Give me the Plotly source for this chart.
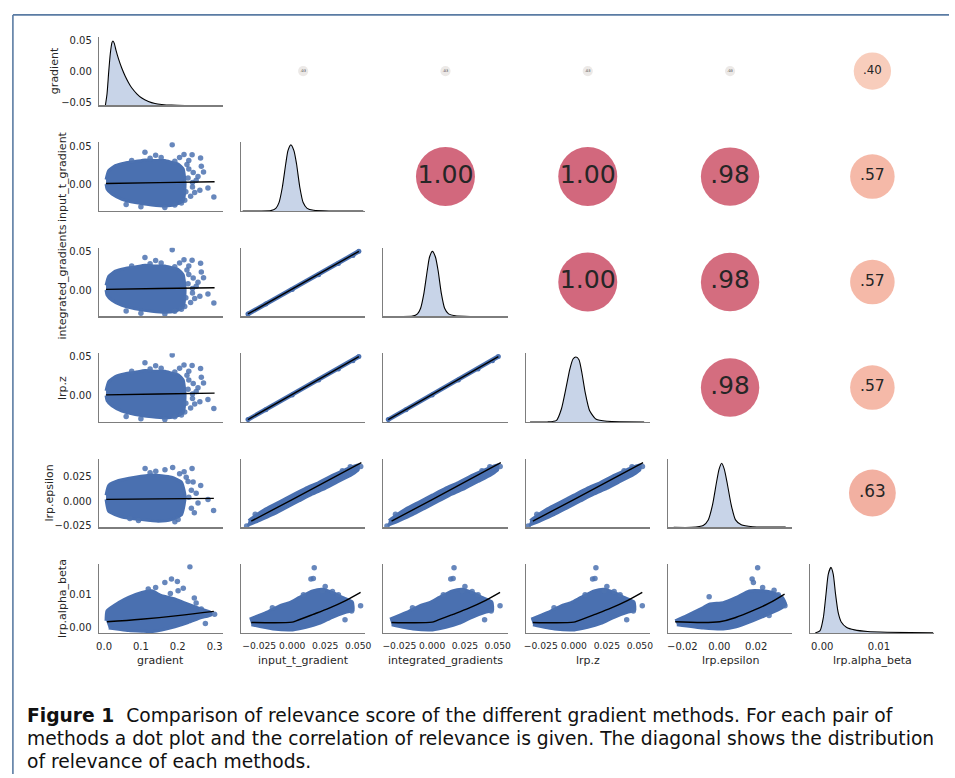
import plotly.graph_objects as go
import math

W, H = 955, 778

# ---------------- data ----------------
names = ["gradient", "input_t_gradient", "integrated_gradients", "lrp.z", "lrp.epsilon", "lrp.alpha_beta"]

x_ranges = [[-0.0143, 0.3226], [-0.0387, 0.0553], [-0.0372, 0.0575], [-0.0364, 0.0575], [-0.0278, 0.0395], [-0.0021, 0.0198]]
y_ranges = [[-0.0555, 0.0555], [-0.0355, 0.0553], [-0.0342, 0.0547], [-0.0340, 0.0543], [-0.0270, 0.0434], [-0.0017, 0.0194]]
x_tickvals = [[0.0, 0.1, 0.2, 0.3], [-0.025, 0.0, 0.025, 0.05], [-0.025, 0.0, 0.025, 0.05], [-0.025, 0.0, 0.025, 0.05], [-0.02, 0.0, 0.02], [0.0, 0.01]]
x_tickfmt = [".1f", ".3f", ".3f", ".3f", ".2f", ".2f"]
y_tickvals = [[-0.05, 0.0, 0.05], [0.0, 0.05], [0.0, 0.05], [0.0, 0.05], [-0.025, 0.0, 0.025], [0.0, 0.01]]
y_tickfmt = [".2f", ".2f", ".2f", ".2f", ".3f", ".2f"]

# correlation (upper triangle)
corr_rows = [0, 0, 0, 0, 0, 1, 1, 1, 1, 2, 2, 2, 3, 3, 4]
corr_cols = [1, 2, 3, 4, 5, 2, 3, 4, 5, 3, 4, 5, 4, 5, 5]
corr_vals = [0.03, 0.03, 0.03, 0.03, 0.40, 1.00, 1.00, 0.98, 0.57, 1.00, 0.98, 0.57, 0.98, 0.57, 0.63]

# diagonal distributions (kde outline, relative density)
diag_x = [
    [0.0036, 0.0081, 0.0126, 0.0170, 0.0216, 0.0242, 0.0278, 0.0323, 0.0395, 0.0485, 0.0575, 0.0665, 0.0755, 0.0889, 0.1024, 0.1204, 0.1383, 0.1563, 0.1833, 0.2192, 0.3091],
    [-0.0375, -0.0250, -0.0162, -0.0124, -0.0100, -0.0075, -0.0049, -0.0032, -0.0010, 0.0013, 0.0033, 0.0058, 0.0083, 0.0113, 0.0163, 0.0288, 0.0538],
    [-0.0360, -0.0240, -0.0150, -0.0112, -0.0088, -0.0063, -0.0037, -0.0020, 0.0002, 0.0025, 0.0045, 0.0070, 0.0095, 0.0125, 0.0175, 0.0300, 0.0560],
    [-0.0331, -0.0200, -0.0131, -0.0094, -0.0056, -0.0031, -0.0006, 0.0016, 0.0039, 0.0061, 0.0086, 0.0119, 0.0169, 0.0256, 0.0532],
    [-0.0247, -0.0150, -0.0087, -0.0060, -0.0037, -0.0015, -0.0001, 0.0013, 0.0027, 0.0042, 0.0065, 0.0088, 0.0119, 0.0181, 0.0360],
    [-0.00123, -0.00037, 0.00021, 0.00067, 0.00107, 0.00154, 0.00194, 0.00235, 0.00281, 0.00339, 0.00426, 0.00570, 0.00800, 0.01147, 0.01957],
]
diag_h = [
    [0.0, 0.182, 0.52, 0.807, 0.979, 1.0, 0.964, 0.859, 0.719, 0.573, 0.453, 0.354, 0.271, 0.182, 0.115, 0.0625, 0.031, 0.016, 0.005, 0.0, 0.0],
    [0.0, 0.0, 0.005, 0.04, 0.127, 0.355, 0.71, 0.913, 1.0, 0.913, 0.71, 0.355, 0.127, 0.04, 0.01, 0.0, 0.0],
    [0.0, 0.0, 0.005, 0.04, 0.127, 0.355, 0.71, 0.913, 1.0, 0.913, 0.71, 0.355, 0.127, 0.04, 0.01, 0.0, 0.0],
    [0.0, 0.0, 0.025, 0.2, 0.555, 0.808, 0.97, 1.0, 0.96, 0.758, 0.455, 0.177, 0.04, 0.01, 0.0],
    [0.0, 0.0, 0.03, 0.117, 0.347, 0.704, 0.908, 1.0, 0.908, 0.704, 0.347, 0.117, 0.04, 0.01, 0.005],
    [0.0, 0.036, 0.239, 0.594, 0.898, 1.0, 0.898, 0.594, 0.315, 0.163, 0.087, 0.046, 0.021, 0.01, 0.0],
]
diag_top = [1.067, 1.04, 1.056, 1.06, 1.072, 1.05]

# scatter clouds: dense region outline + sparse points + fitted line
# A: gradient vs input_t_gradient / integrated_gradients / lrp.z
A_hull_x = [0.0054, 0.0081, 0.0215, 0.0485, 0.0844, 0.1294, 0.1653, 0.1922, 0.2147, 0.2200, 0.2147, 0.2012, 0.1832, 0.1653, 0.1383, 0.1114, 0.0844, 0.0574, 0.0305, 0.0126, 0.0054]
A_hull_y = [0.0, -0.0066, -0.0133, -0.0200, -0.0244, -0.0275, -0.0289, -0.0275, -0.0222, 0.0, 0.0199, 0.0266, 0.0288, 0.0310, 0.0310, 0.0319, 0.0297, 0.0279, 0.0243, 0.0177, 0.0060]
A_pts_x = [0.185, 0.111, 0.140, 0.217, 0.239, 0.262, 0.192, 0.230, 0.264, 0.242, 0.230, 0.282, 0.298, 0.246, 0.235, 0.219, 0.192, 0.260, 0.250, 0.165, 0.100,
           0.205, 0.225, 0.255, 0.270, 0.228, 0.240, 0.210, 0.155, 0.125, 0.075, 0.060, 0.240, 0.222]
A_pts_y = [0.052, 0.042, 0.038, 0.039, 0.0386, 0.0346, 0.030, 0.031, 0.0234, 0.0154, 0.020, -0.0053, -0.0169, -0.011, -0.016, -0.0213, -0.0275, -0.008, 0.005, -0.031, -0.030,
           0.035, 0.026, 0.010, 0.016, 0.008, -0.004, -0.025, 0.035, 0.034, 0.031, -0.027, 0.002, -0.010]
A_fit_x = [0.005, 0.15, 0.300]
A_fit_y = [0.0008, 0.0019, 0.0030]

# B: gradient vs lrp.epsilon
B_hull_x = [0.0054, 0.0126, 0.0485, 0.1024, 0.1473, 0.1832, 0.2102, 0.2173, 0.2200, 0.2102, 0.1832, 0.1563, 0.1294, 0.0844, 0.0395, 0.0126, 0.0054]
B_hull_y = [0.0017, -0.0106, -0.0163, -0.0190, -0.0206, -0.0190, -0.0140, -0.0040, 0.0050, 0.0194, 0.0244, 0.0260, 0.0267, 0.0244, 0.0210, 0.0160, 0.0060]
B_pts_x = [0.1114, 0.1404, 0.1862, 0.1653, 0.2173, 0.2389, 0.2230, 0.2623, 0.2417, 0.2370, 0.2821, 0.2973, 0.2370, 0.0934, 0.1922, 0.2010,
           0.2050, 0.2280, 0.2500, 0.2550, 0.2300, 0.2450, 0.1250, 0.0700]
B_pts_y = [0.0334, 0.0304, 0.0344, 0.0320, 0.0301, 0.0334, 0.0244, 0.0160, 0.0194, 0.0111, 0.0017, -0.0096, -0.0073, -0.0200, -0.0213, -0.0190,
           0.0280, 0.0200, 0.0080, -0.0020, 0.0040, -0.0120, 0.0290, -0.0180]
B_fit_x = [0.006, 0.15, 0.298]
B_fit_y = [0.0017, 0.0022, 0.0027]

# C: gradient vs lrp.alpha_beta
C_hull_x = [0.0054, 0.0081, 0.0395, 0.0664, 0.1024, 0.1294, 0.1563, 0.1922, 0.2282, 0.2641, 0.2900, 0.2900, 0.2641, 0.2282, 0.1922, 0.1563, 0.1294, 0.1024, 0.0664, 0.0395, 0.0126]
C_hull_y = [0.0020, 0.0051, 0.0076, 0.0092, 0.0107, 0.0112, 0.0097, 0.0087, 0.0071, 0.0056, 0.0046, 0.0038, 0.0030, 0.0015, 0.0002, -0.0008, -0.0013, -0.0012, -0.0010, -0.0006, -0.0002]
C_pts_x = [0.233, 0.183, 0.199, 0.165, 0.201, 0.264, 0.300, 0.275, 0.215, 0.250, 0.140, 0.120, 0.180, 0.245]
C_pts_y = [0.0186, 0.0148, 0.0141, 0.0138, 0.0112, 0.0056, 0.0040, 0.0012, 0.0120, 0.0075, 0.0122, 0.0118, 0.0104, 0.0090]
C_fit_x = [0.008, 0.100, 0.200, 0.298]
C_fit_y = [0.0017, 0.0025, 0.0036, 0.0049]

# D: input_t_gradient / integrated_gradients / lrp.z against each other
D_x = [-0.0335, -0.0200, 0.0, 0.0200, 0.0350, 0.0460, 0.0505]
D_y = [-0.0310, -0.0182, 0.0005, 0.0197, 0.0341, 0.0447, 0.0500]
D_fit_x = [-0.0335, 0.0505]
D_fit_y = [-0.0310, 0.0500]

# E: input_t_gradient / integrated_gradients / lrp.z vs lrp.epsilon
E_hull_x = [-0.034, -0.025, -0.015, -0.005, 0.005, 0.015, 0.025, 0.035, 0.045, 0.050, 0.050, 0.040, 0.030, 0.020, 0.010, 0.000, -0.010, -0.020, -0.028, -0.033]
E_hull_y = [-0.025, -0.020, -0.014, -0.007, 0.000, 0.007, 0.013, 0.020, 0.027, 0.032, 0.037, 0.032, 0.026, 0.019, 0.013, 0.006, -0.001, -0.008, -0.015, -0.020]
E_pts_x = [0.0519, -0.0345, -0.028, 0.044, 0.038]
E_pts_y = [0.0354, -0.0255, -0.0135, 0.0350, 0.0310]
E_fit_x = [-0.031, 0.0, 0.0524]
E_fit_y = [-0.0206, 0.0015, 0.0394]

# F: input_t_gradient / integrated_gradients / lrp.z vs lrp.alpha_beta
F_hull_x = [-0.0322, -0.0196, -0.0096, -0.0021, 0.0054, 0.0154, 0.0229, 0.0305, 0.0380, 0.0455, 0.0460, 0.0405, 0.0305, 0.0205, 0.0105, 0.0004, -0.0146, -0.0309]
F_hull_y = [0.0025, 0.0046, 0.0066, 0.0076, 0.0092, 0.0112, 0.0117, 0.0107, 0.0092, 0.0078, 0.0052, 0.0046, 0.0031, 0.0012, 0.0000, -0.0008, -0.0005, 0.0008]
F_pts_x = [0.0167, 0.0142, 0.0160, 0.0229, 0.0305, 0.0518, 0.0450, 0.0085, 0.0400, 0.0250, 0.0350, -0.0150]
F_pts_y = [0.0183, 0.0148, 0.0150, 0.0112, 0.0110, 0.0066, 0.0050, 0.0100, 0.0023, 0.0125, 0.0100, 0.0060]
F_fit_x = [-0.031, 0.0, 0.003, 0.0154, 0.028, 0.0405, 0.0518]
F_fit_y = [0.0015, 0.0016, 0.0020, 0.0039, 0.0059, 0.0082, 0.0107]

# G: lrp.epsilon vs lrp.alpha_beta
G_hull_x = [-0.0239, -0.0176, -0.0087, -0.0050, 0.0021, 0.0092, 0.0163, 0.0235, 0.0288, 0.0342, 0.0360, 0.0342, 0.0270, 0.0181, 0.0092, 0.0021, -0.0087, -0.0230]
G_hull_y = [0.0020, 0.0036, 0.0061, 0.0072, 0.0076, 0.0092, 0.0112, 0.0112, 0.0107, 0.0092, 0.0071, 0.0061, 0.0041, 0.0020, 0.0002, -0.0005, -0.0002, 0.0008]
G_pts_x = [0.0208, 0.0178, 0.0185, 0.0297, 0.0270, 0.0356, -0.0055, 0.0235, 0.0320]
G_pts_y = [0.0183, 0.0148, 0.0138, 0.0114, 0.0036, 0.0066, 0.0094, 0.0122, 0.0100]
G_fit_x = [-0.0239, 0.0002, 0.0092, 0.0181, 0.0270, 0.0354]
G_fit_y = [0.0017, 0.0017, 0.0031, 0.0051, 0.0074, 0.0102]

clouds = {
    "A": (A_hull_x, A_hull_y, A_pts_x, A_pts_y, A_fit_x, A_fit_y),
    "B": (B_hull_x, B_hull_y, B_pts_x, B_pts_y, B_fit_x, B_fit_y),
    "C": (C_hull_x, C_hull_y, C_pts_x, C_pts_y, C_fit_x, C_fit_y),
    "E": (E_hull_x, E_hull_y, E_pts_x, E_pts_y, E_fit_x, E_fit_y),
    "F": (F_hull_x, F_hull_y, F_pts_x, F_pts_y, F_fit_x, F_fit_y),
    "G": (G_hull_x, G_hull_y, G_pts_x, G_pts_y, G_fit_x, G_fit_y),
}
panel_cloud = {(1, 0): "A", (2, 0): "A", (3, 0): "A", (4, 0): "B", (5, 0): "C",
               (2, 1): "D", (3, 1): "D", (3, 2): "D",
               (4, 1): "E", (4, 2): "E", (4, 3): "E",
               (5, 1): "F", (5, 2): "F", (5, 3): "F", (5, 4): "G"}

caption_lines = [
    "<b>Figure 1</b>  Comparison of relevance score of the different gradient methods. For each pair of",
    "methods a dot plot and the correlation of relevance is given. The diagonal shows the distribution",
    "of relevance of each methods.",
]

# ---------------- style / layout ----------------
X0, DX, PW = 96.7, 143.66, 125.3
Y0, DY, PH = 35.0, 106.3, 69.3
BLUE = "#4a70b0"
PT = "rgba(76,114,176,0.85)"
HIST = "#c8d4e8"
AXC = "#7d7d7d"
TXT = "#262626"
FONT = "DejaVu Sans"
x_tick_size = [10, 9.2, 9.2, 9.2, 10, 10]

coolwarm = [[0.0, "rgb(59,76,192)"], [0.125, "rgb(98,130,234)"], [0.25, "rgb(141,176,254)"],
            [0.375, "rgb(184,208,249)"], [0.5, "rgb(221,221,221)"], [0.625, "rgb(245,196,173)"],
            [0.75, "rgb(244,154,123)"], [0.875, "rgb(222,96,77)"], [1.0, "rgb(180,4,38)"]]


def dom_x(c):
    a = X0 + c * DX
    return [a / W, (a + PW) / W]


def dom_y(r):
    t = Y0 + r * DY
    return [1 - (t + PH) / H, 1 - t / H]


def axis(size=10, **kw):
    d = dict(showgrid=False, zeroline=False, showline=True, linecolor=AXC, linewidth=1.2,
             ticks="outside", ticklen=4, tickcolor="rgba(0,0,0,0)", tickangle=0,
             tickfont=dict(family=FONT, size=size, color=TXT), fixedrange=True)
    d.update(kw)
    return d


fig = go.Figure()
lay = {}

for r in range(6):
    for c in range(6):
        k = r * 6 + c + 1
        xs, ys = f"x{k}", f"y{k}"
        xn, yn = f"xaxis{k}", f"yaxis{k}"
        if r < c:
            lay[xn] = dict(domain=dom_x(c), anchor=ys, range=[0, 1], visible=False, fixedrange=True)
            lay[yn] = dict(domain=dom_y(r), anchor=xs, range=[0, 1], visible=False, fixedrange=True)
            continue
        xa = axis(size=x_tick_size[c], domain=dom_x(c), anchor=ys, range=x_ranges[c], tickvals=x_tickvals[c],
                  tickformat=x_tickfmt[c], showticklabels=(r == 5))
        if r == c:
            ya = axis(domain=dom_y(r), anchor=xs, range=[0, diag_top[r]], showticklabels=False)
        else:
            ya = axis(domain=dom_y(r), anchor=xs, range=y_ranges[r], tickvals=y_tickvals[r], tickformat=y_tickfmt[r],
                      showticklabels=(c == 0))
        lay[xn] = xa
        lay[yn] = ya

# row-0 value axis on top of the first (density) panel
lay["yaxis37"] = axis(anchor="x1", overlaying="y1", side="left", range=y_ranges[0], tickvals=y_tickvals[0],
                      tickformat=y_tickfmt[0], showline=False)
fig.add_trace(go.Scatter(x=[], y=[], xaxis="x1", yaxis="y37", mode="markers", hoverinfo="skip", showlegend=False))

# diagonal panels
for i in range(6):
    k = i * 6 + i + 1
    fig.add_trace(go.Scatter(x=diag_x[i], y=diag_h[i], xaxis=f"x{k}", yaxis=f"y{k}", mode="lines",
                             fill="tozeroy", fillcolor=HIST, line=dict(color="black", width=1.1, shape="spline", smoothing=0.6),
                             hoverinfo="skip", showlegend=False))

# lower triangle scatter panels
for (r, c), key in panel_cloud.items():
    k = r * 6 + c + 1
    xs, ys = f"x{k}", f"y{k}"
    if key == "D":
        fig.add_trace(go.Scatter(x=D_x, y=D_y, xaxis=xs, yaxis=ys, mode="lines+markers",
                                 line=dict(color=BLUE, width=4.5), marker=dict(color=BLUE, size=5),
                                 hoverinfo="skip", showlegend=False))
        fig.add_trace(go.Scatter(x=D_fit_x, y=D_fit_y, xaxis=xs, yaxis=ys, mode="lines",
                                 line=dict(color="black", width=1.4), hoverinfo="skip", showlegend=False))
        continue
    hx, hy, px, py, fx, fy = clouds[key]
    fig.add_trace(go.Scatter(x=hx, y=hy, xaxis=xs, yaxis=ys, mode="lines", fill="toself", fillcolor=BLUE,
                             line=dict(color=BLUE, width=3, shape="spline", smoothing=0.5),
                             hoverinfo="skip", showlegend=False))
    fig.add_trace(go.Scatter(x=px, y=py, xaxis=xs, yaxis=ys, mode="markers",
                             marker=dict(color=PT, size=5.5, line=dict(width=0)),
                             hoverinfo="skip", showlegend=False))
    fig.add_trace(go.Scatter(x=fx, y=fy, xaxis=xs, yaxis=ys, mode="lines",
                             line=dict(color="black", width=1.4, shape="spline"), hoverinfo="skip", showlegend=False))

# upper triangle correlation dots
for r, c, v in zip(corr_rows, corr_cols, corr_vals):
    k = r * 6 + c + 1
    label = f"{v:.2f}".replace("0.", ".")
    fig.add_trace(go.Scatter(x=[0.5], y=[0.5], xaxis=f"x{k}", yaxis=f"y{k}", mode="markers",
                             marker=dict(size=59 * math.sqrt(abs(v)), color=[v], colorscale=coolwarm, cmin=-1, cmax=1,
                                         opacity=0.6, line=dict(width=0)),
                             hoverinfo="skip", showlegend=False))
    fig.add_trace(go.Scatter(x=[0.5], y=[0.5], xaxis=f"x{k}", yaxis=f"y{k}", mode="text", text=[label],
                             textposition="middle center",
                             textfont=dict(family=FONT, size=0.56 * (abs(v) * 40 + 5), color=TXT),
                             hoverinfo="skip", showlegend=False))

annotations = []
ylab_x = [51.5, 60, 60, 60, 46, 60]
for i, nm in enumerate(names):
    t = Y0 + i * DY + PH / 2
    annotations.append(dict(text=nm, x=ylab_x[i] / W, y=1 - t / H, xref="paper", yref="paper",
                            textangle=-90, showarrow=False, xanchor="center", yanchor="middle",
                            font=dict(family=FONT, size=11, color=TXT)))
    a = X0 + i * DX + PW / 2
    annotations.append(dict(text=nm, x=a / W, y=1 - 664 / H, xref="paper", yref="paper",
                            showarrow=False, xanchor="center", yanchor="middle",
                            font=dict(family=FONT, size=11, color=TXT)))

cap_y = [719.5, 742.5, 765.5]
for line, yy in zip(caption_lines, cap_y):
    annotations.append(dict(text=line, x=22 / W, y=1 - yy / H, xref="paper", yref="paper", showarrow=False,
                            xanchor="left", yanchor="middle", align="left",
                            font=dict(family="DejaVu Sans", size=18.7, color="#111111")))

shapes = [
    dict(type="line", xref="paper", yref="paper", x0=10 / W, x1=1.0, y0=1 - 13 / H, y1=1 - 13 / H,
         line=dict(color="#5a7ba3", width=1.6)),
    dict(type="line", xref="paper", yref="paper", x0=10 / W, x1=10 / W, y0=1 - 13 / H, y1=0,
         line=dict(color="#5a7ba3", width=1.6)),
]

fig.update_layout(width=W, height=H, margin=dict(l=0, r=0, t=0, b=0), paper_bgcolor="white",
                  plot_bgcolor="rgba(0,0,0,0)", showlegend=False, annotations=annotations, shapes=shapes, **lay)

fig.write_html("out.html", config={"displayModeBar": False, "staticPlot": True},
               post_script="document.body.style.margin='0';document.body.style.overflow='hidden';")
